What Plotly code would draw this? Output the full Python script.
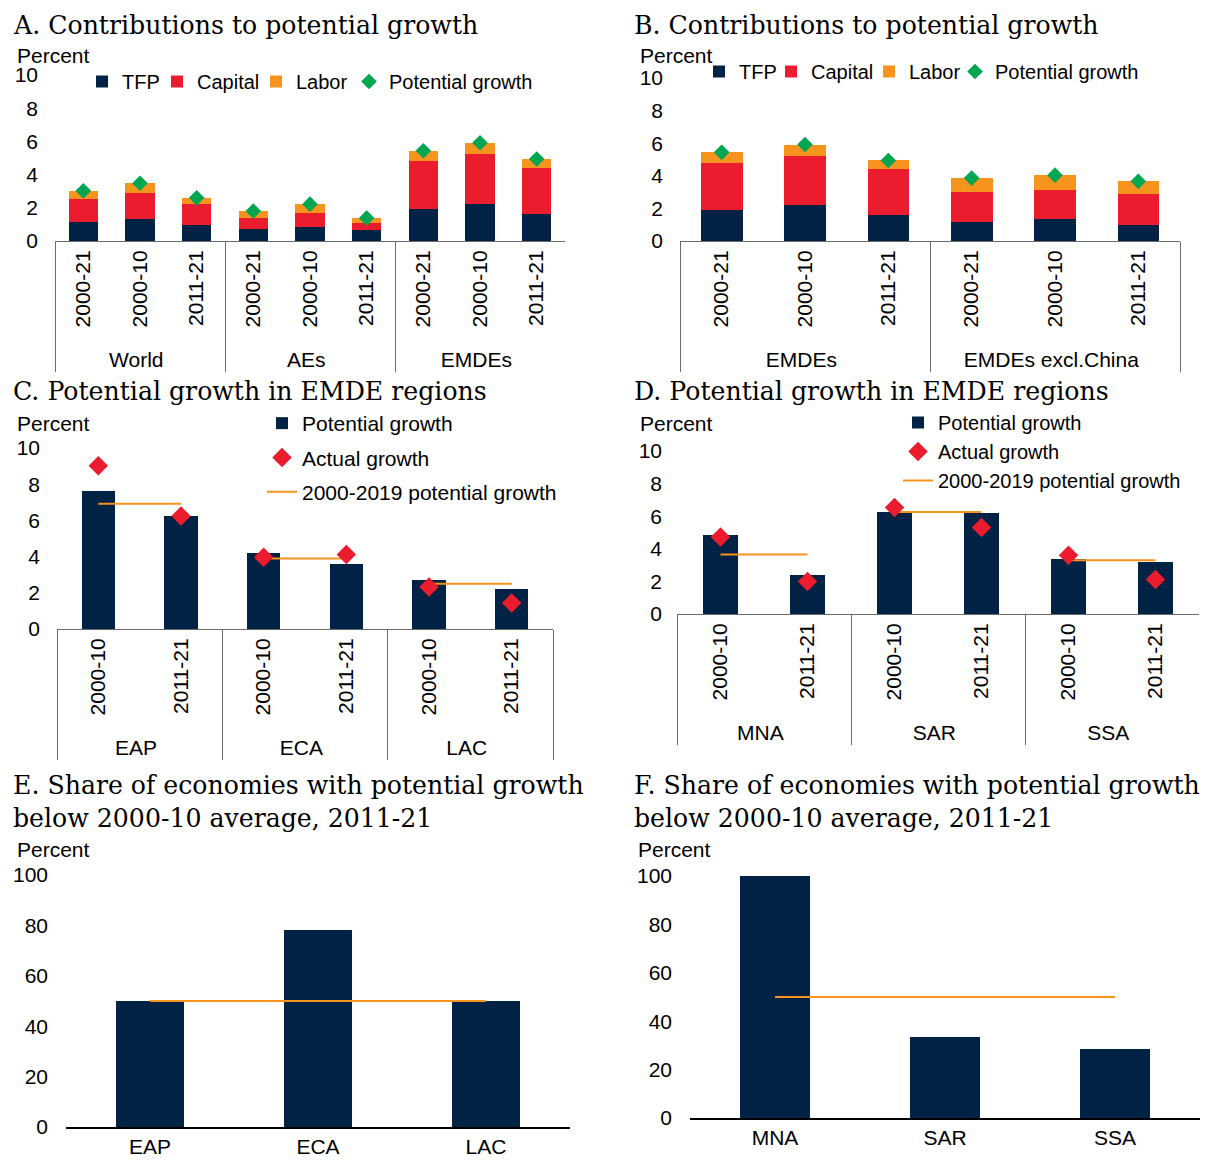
import plotly.graph_objects as go

# ---------------- data ----------------
A_groups = ["World", "AEs", "EMDEs"]
A_periods = ["2000-21", "2000-10", "2011-21"]
A_tfp = [1.16, 1.32, 0.98, 0.74, 0.86, 0.64, 1.90, 2.20, 1.60]
A_capital = [1.38, 1.58, 1.26, 0.66, 0.84, 0.46, 2.90, 3.02, 2.82]
A_labor = [0.48, 0.58, 0.36, 0.40, 0.52, 0.28, 0.64, 0.70, 0.52]
A_potential = [3.02, 3.48, 2.60, 1.80, 2.22, 1.38, 5.44, 5.92, 4.94]

B_groups = ["EMDEs", "EMDEs excl.China"]
B_periods = ["2000-21", "2000-10", "2011-21"]
B_tfp = [1.90, 2.20, 1.60, 1.15, 1.32, 1.01]
B_capital = [2.90, 3.02, 2.82, 1.84, 1.81, 1.86]
B_labor = [0.64, 0.70, 0.52, 0.87, 0.91, 0.80]
B_potential = [5.44, 5.92, 4.94, 3.86, 4.04, 3.67]

C_groups = ["EAP", "ECA", "LAC"]
C_periods = ["2000-10", "2011-21"]
C_potential = [7.64, 6.24, 4.20, 3.57, 2.73, 2.23]
C_actual = [9.02, 6.24, 3.96, 4.12, 2.32, 1.44]
C_base = [6.92, 3.89, 2.50]

D_groups = ["MNA", "SAR", "SSA"]
D_periods = ["2000-10", "2011-21"]
D_potential = [4.84, 2.42, 6.27, 6.17, 3.38, 3.16]
D_actual = [4.73, 1.99, 6.54, 5.31, 3.61, 2.11]
D_base = [3.65, 6.25, 3.30]

E_regions = ["EAP", "ECA", "LAC"]
E_share = [50, 78, 50]
E_base = [50, 50, 50]

F_regions = ["MNA", "SAR", "SSA"]
F_share = [100, 33.3, 28.6]
F_base = [50, 50, 50]

# ---------------- style ----------------
W, H = 1206, 1160
NAVY = "#002345"
RED = "#EB1C2D"
ORANGE = "#F7941D"
GREEN = "#00A651"
SANS = "Liberation Sans, Arial, sans-serif"
SERIF = "DejaVu Serif, serif"
FS = 21
LFS = 20


def px(x):
    return x / W


def py(y):
    return 1 - y / H


def multi(groups, periods):
    outer, inner = [], []
    for g in groups:
        for p in periods:
            outer.append(g)
            inner.append(p)
    return [outer, inner]


def base_line(groups, periods, vals):
    outer, inner, ys = [], [], []
    for g, v in zip(groups, vals):
        outer += [g, g, g]
        inner += [periods[0], periods[-1], periods[-1]]
        ys += [v, v, None]
    return [outer, inner], ys


fig = go.Figure()

# ---- Panel A ----
xa = multi(A_groups, A_periods)
for name, vals, col, lw in [("TFP", A_tfp, NAVY, 30), ("Capital", A_capital, RED, 54),
                            ("Labor", A_labor, ORANGE, 48)]:
    fig.add_trace(go.Bar(x=xa, y=vals, name=name, marker=dict(color=col, line=dict(width=0)),
                         width=0.52, xaxis="x", yaxis="y", legend="legend", legendwidth=lw))
fig.add_trace(go.Scatter(x=xa, y=A_potential, name="Potential growth", mode="markers",
                         marker=dict(symbol="diamond", color=GREEN, size=12),
                         xaxis="x", yaxis="y", legend="legend"))

# ---- Panel B ----
xb = multi(B_groups, B_periods)
for name, vals, col, lw in [("TFP", B_tfp, NAVY, 27), ("Capital", B_capital, RED, 53),
                            ("Labor", B_labor, ORANGE, 41)]:
    fig.add_trace(go.Bar(x=xb, y=vals, name=name, marker=dict(color=col, line=dict(width=0)),
                         width=0.5, xaxis="x2", yaxis="y2", legend="legend2", legendwidth=lw))
fig.add_trace(go.Scatter(x=xb, y=B_potential, name="Potential growth", mode="markers",
                         marker=dict(symbol="diamond", color=GREEN, size=12),
                         xaxis="x2", yaxis="y2", legend="legend2"))

# ---- Panel C ----
xc = multi(C_groups, C_periods)
fig.add_trace(go.Bar(x=xc, y=C_potential, name="Potential growth", marker=dict(color=NAVY, line=dict(width=0)),
                     width=0.4, xaxis="x3", yaxis="y3", legend="legend3", legendgroup="c1", legendrank=1))
lx, ly = base_line(C_groups, C_periods, C_base)
fig.add_trace(go.Scatter(x=lx, y=ly, name="2000-2019 potential growth", mode="lines",
                         line=dict(color=ORANGE, width=2), connectgaps=False,
                         xaxis="x3", yaxis="y3", legend="legend3", legendgroup="c3", legendrank=3))
fig.add_trace(go.Scatter(x=xc, y=C_actual, name="Actual growth", mode="markers",
                         marker=dict(symbol="diamond", color=RED, size=15),
                         xaxis="x3", yaxis="y3", legend="legend3", legendgroup="c2", legendrank=2))

# ---- Panel D ----
xd = multi(D_groups, D_periods)
fig.add_trace(go.Bar(x=xd, y=D_potential, name="Potential growth", marker=dict(color=NAVY, line=dict(width=0)),
                     width=0.41, xaxis="x4", yaxis="y4", legend="legend4", legendrank=1))
lx, ly = base_line(D_groups, D_periods, D_base)
fig.add_trace(go.Scatter(x=lx, y=ly, name="2000-2019 potential growth", mode="lines",
                         line=dict(color=ORANGE, width=2), connectgaps=False,
                         xaxis="x4", yaxis="y4", legend="legend4", legendrank=3))
fig.add_trace(go.Scatter(x=xd, y=D_actual, name="Actual growth", mode="markers",
                         marker=dict(symbol="diamond", color=RED, size=15),
                         xaxis="x4", yaxis="y4", legend="legend4", legendrank=2))

# ---- Panel E ----
fig.add_trace(go.Bar(x=E_regions, y=E_share, marker=dict(color=NAVY, line=dict(width=0)), width=0.41,
                     showlegend=False, xaxis="x5", yaxis="y5"))
fig.add_trace(go.Scatter(x=E_regions, y=E_base, mode="lines", line=dict(color=ORANGE, width=2),
                         showlegend=False, xaxis="x5", yaxis="y5"))

# ---- Panel F ----
fig.add_trace(go.Bar(x=F_regions, y=F_share, marker=dict(color=NAVY, line=dict(width=0)), width=0.41,
                     showlegend=False, xaxis="x6", yaxis="y6"))
fig.add_trace(go.Scatter(x=F_regions, y=F_base, mode="lines", line=dict(color=ORANGE, width=2),
                         showlegend=False, xaxis="x6", yaxis="y6"))

# ---------------- axes ----------------
tickfont = dict(family=SANS, size=FS, color="black")


def mc_xaxis(x0, x1, n, anchor):
    return dict(domain=[px(x0), px(x1)], anchor=anchor, type="multicategory",
                range=[-0.5, n - 0.5], tickangle=-90, tickfont=tickfont,
                showline=True, linecolor="#6b6b6b", linewidth=1,
                showdividers=True, dividercolor="#6b6b6b", dividerwidth=1,
                showgrid=False, zeroline=False, ticks="", automargin=False)


def cat_xaxis(x0, x1, n, anchor):
    return dict(domain=[px(x0), px(x1)], anchor=anchor, type="category",
                range=[-0.5, n - 0.5], tickfont=tickfont,
                showline=True, linecolor="black", linewidth=1.5,
                showgrid=False, zeroline=False, ticks="", automargin=False)


def yaxis(y0, y1, top, dt, anchor, standoff):
    return dict(domain=[py(y0), py(y1)], anchor=anchor, range=[0, top], dtick=dt,
                tickfont=tickfont, showgrid=False, zeroline=False, showline=False,
                ticks="", ticklabelstandoff=standoff, automargin=False)


fig.update_layout(
    xaxis=mc_xaxis(55, 565, 9, "y"),
    yaxis=yaxis(241, 75, 10, 2, "x", 16),
    xaxis2=mc_xaxis(680, 1180, 6, "y2"),
    yaxis2=yaxis(241, 78, 10, 2, "x2", 16),
    xaxis3=mc_xaxis(57, 553, 6, "y3"),
    yaxis3=yaxis(629, 448, 10, 2, "x3", 16),
    xaxis4=mc_xaxis(677, 1199, 6, "y4"),
    yaxis4=yaxis(614, 451, 10, 2, "x4", 14),
    xaxis5=cat_xaxis(66, 570, 3, "y5"),
    yaxis5=yaxis(1127, 875, 100, 20, "x5", 17),
    xaxis6=cat_xaxis(690, 1200, 3, "y6"),
    yaxis6=yaxis(1118, 876, 100, 20, "x6", 17),
)

legfont = dict(family=SANS, size=LFS, color="black")
fig.update_layout(
    barmode="stack",
    legend=dict(orientation="h", x=px(82), y=py(62), xanchor="left", yanchor="top",
                font=legfont, bgcolor="rgba(0,0,0,0)", traceorder="normal"),
    legend2=dict(orientation="h", x=px(699), y=py(52), xanchor="left", yanchor="top",
                 font=legfont, bgcolor="rgba(0,0,0,0)", traceorder="normal"),
    legend3=dict(orientation="v", x=px(262), y=py(403), xanchor="left", yanchor="top",
                 font=dict(family=SANS, size=FS, color="black"), bgcolor="rgba(0,0,0,0)",
                 traceorder="grouped", tracegroupgap=4),
    legend4=dict(orientation="v", x=px(898), y=py(403), xanchor="left", yanchor="top",
                 font=dict(family=SANS, size=LFS, color="black"), bgcolor="rgba(0,0,0,0)",
                 traceorder="normal"),
)

# ---------------- text ----------------
ann = []
titles = [
    (11, 25, "A. Contributions to potential growth"),
    (632, 25, "B. Contributions to potential growth"),
    (11, 391, "C. Potential growth in EMDE regions"),
    (632, 391, "D. Potential growth in EMDE regions"),
    (11, 802, "E. Share of economies with potential growth<br>below 2000-10 average, 2011-21"),
    (632, 802, "F. Share of economies with potential growth<br>below 2000-10 average, 2011-21"),
]
for x, y, t in titles:
    ann.append(dict(x=px(x), y=py(y), xref="paper", yref="paper", text=t, showarrow=False,
                    xanchor="left", yanchor="middle", align="left",
                    font=dict(family=SERIF, size=25.2, color="black")))
units = [(15, 55), (638, 55), (15, 423), (638, 423), (15, 849), (636, 849)]
for x, y in units:
    ann.append(dict(x=px(x), y=py(y), xref="paper", yref="paper", text="Percent", showarrow=False,
                    xanchor="left", yanchor="middle", font=dict(family=SANS, size=FS, color="black")))

fig.update_layout(
    annotations=ann,
    width=W, height=H,
    margin=dict(l=0, r=0, t=0, b=0, pad=0, autoexpand=False),
    paper_bgcolor="white", plot_bgcolor="white",
    font=dict(family=SANS, size=FS, color="black"),
)

fig.write_html("out.html", config={"displayModeBar": False},
               post_script="document.body.style.margin='0px';")
